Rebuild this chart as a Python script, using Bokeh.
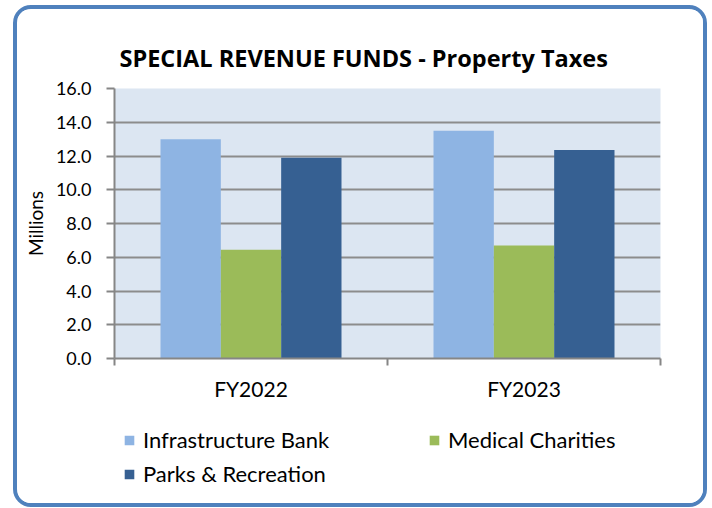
from bokeh.plotting import figure
from bokeh.layouts import column
from bokeh.models import FixedTicker, Legend, LegendItem, ColumnDataSource, Range1d, NumeralTickFormatter
from bokeh.embed import file_html
from bokeh.resources import INLINE

categories = ["FY2022", "FY2023"]
series_names = ["Infrastructure Bank", "Medical Charities", "Parks & Recreation"]
infrastructure_bank = [13.0, 13.5]
medical_charities = [6.45, 6.7]
parks_recreation = [11.9, 12.35]
y_ticks = [0, 2, 4, 6, 8, 10, 12, 14, 16]

colors = ["#8EB4E3", "#9BBB59", "#366092"]
series_values = [infrastructure_bank, medical_charities, parks_recreation]

FONT = "Lato"

p = figure(frame_width=546, frame_height=270, output_backend="svg", toolbar_location=None,
           x_range=Range1d(0, len(categories)), y_range=Range1d(0, 16),
           min_border_left=97, min_border_right=43, min_border_top=79, min_border_bottom=52)

p.title.text = "SPECIAL REVENUE FUNDS - Property Taxes"
p.title.text_font = "Open Sans"
p.title.text_font_style = "bold"
p.title.text_font_size = "23.5px"
p.title.align = "left"
p.title.offset = 5
p.title.text_color = "#000000"
p.title.standoff = 30

p.background_fill_color = "#DCE6F2"
p.border_fill_color = "white"
p.outline_line_color = None

# legend figure (separate canvas below the chart)
p2 = figure(width=686, height=93, output_backend="svg", toolbar_location=None,
            x_range=Range1d(0, len(categories)), y_range=Range1d(100, 101),
            x_axis_type=None, y_axis_type=None,
            min_border_left=0, min_border_right=0, min_border_top=0, min_border_bottom=0)
p2.background_fill_color = "white"
p2.border_fill_color = "white"
p2.outline_line_color = None
p2.grid.visible = False

bar_w = 0.221
offsets = [-bar_w, 0.0, bar_w]
legend_renderers = []
for name, vals, col, off in zip(series_names, series_values, colors, offsets):
    xs = [i + 0.5 + off for i in range(len(categories))]
    src = ColumnDataSource(dict(x=xs, top=vals))
    p.vbar(x="x", top="top", width=bar_w, bottom=0, source=src,
           fill_color=col, line_color=None)
    # same bars on the legend canvas, outside its visible range (legend swatches only)
    r2 = p2.vbar(x="x", top="top", width=bar_w, bottom=0, source=src,
                 fill_color=col, line_color=None)
    legend_renderers.append(r2)

# y axis
p.yaxis.ticker = FixedTicker(ticks=y_ticks)
p.yaxis.formatter = NumeralTickFormatter(format="0.0")
p.yaxis.axis_label = "Millions"
p.yaxis.axis_label_text_font = FONT
p.yaxis.axis_label_text_font_style = "normal"
p.yaxis.axis_label_text_font_size = "19px"
p.yaxis.axis_label_text_color = "#000000"
p.yaxis.axis_label_standoff = 6
p.yaxis.major_label_text_font = FONT
p.yaxis.major_label_text_font_size = "18px"
p.yaxis.major_label_text_color = "#000000"
p.yaxis.major_label_standoff = 15
p.yaxis.axis_line_color = "#868686"
p.yaxis.axis_line_width = 2
p.yaxis.major_tick_line_color = "#868686"
p.yaxis.major_tick_line_width = 2
p.yaxis.major_tick_out = 8
p.yaxis.major_tick_in = 0
p.yaxis.minor_tick_line_color = None

# x axis
centers = [i + 0.5 for i in range(len(categories))]
bounds = list(range(len(categories) + 1))
p.xaxis.ticker = FixedTicker(ticks=centers, minor_ticks=bounds)
p.xaxis.major_label_overrides = {c: lab for c, lab in zip(centers, categories)}
p.xaxis.major_label_text_font = FONT
p.xaxis.major_label_text_font_size = "21px"
p.xaxis.major_label_text_color = "#000000"
p.xaxis.major_label_standoff = 10
p.xaxis.major_tick_line_color = None
p.xaxis.minor_tick_line_color = "#868686"
p.xaxis.minor_tick_line_width = 2
p.xaxis.minor_tick_out = 7
p.xaxis.minor_tick_in = 0
p.xaxis.axis_line_color = "#868686"
p.xaxis.axis_line_width = 2

p.xgrid.grid_line_color = None
p.ygrid.ticker = FixedTicker(ticks=y_ticks)
p.ygrid.grid_line_color = "#8C8C8C"
p.ygrid.grid_line_width = 2

# legend: column-major fill -> order so rows read Infra, Medical / Parks
order = [0, 2, 1]
items = [LegendItem(label=series_names[i], renderers=[legend_renderers[i]]) for i in order]
legend = Legend(items=items, ncols=2, location=(9, 16),
                label_text_font=FONT, label_text_font_size="22px",
                label_text_color="#000000",
                label_height=26, glyph_width=12, glyph_height=12, label_standoff=8,
                label_width=278, spacing=7, padding=0, margin=0,
                border_line_color=None, background_fill_alpha=0)
p2.add_layout(legend, "center")

layout = column(p, p2, spacing=0,
                styles={"border": "4px solid #4F81BD", "border-radius": "18px",
                        "margin-top": "5px", "margin-left": "13px",
                        "overflow": "hidden"})

html = file_html(layout, INLINE)
open("out.html", "w").write(html)
